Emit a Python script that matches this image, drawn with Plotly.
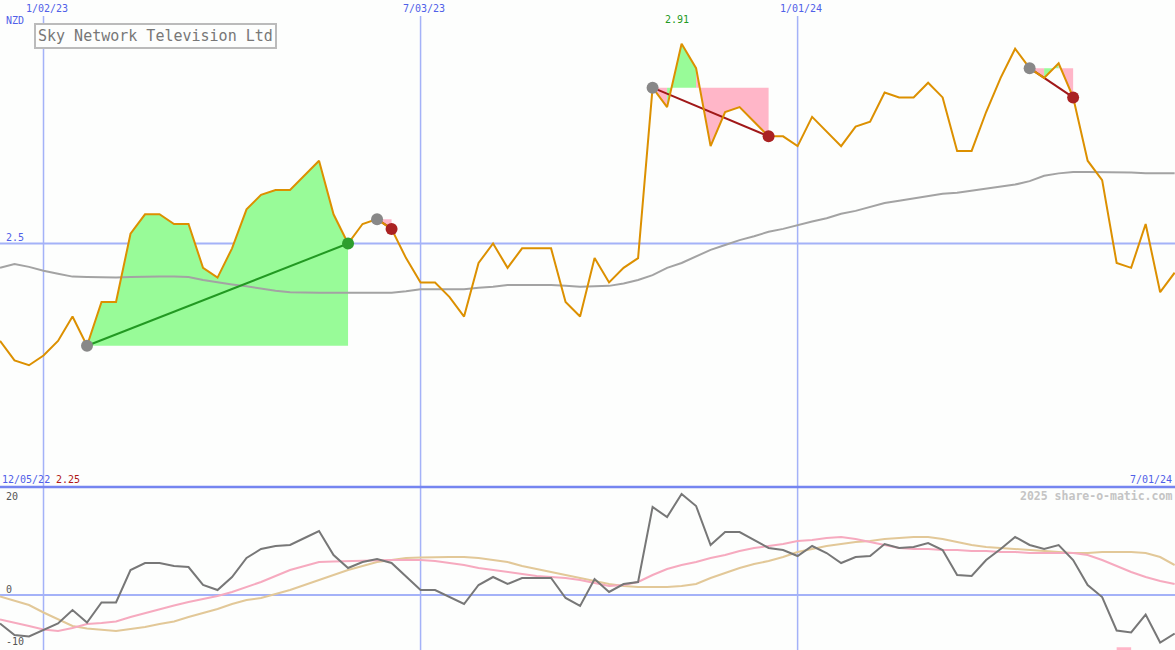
import pandas as pd
import plotly.graph_objects as go

W, H = 1175, 650

# ---------------- data ----------------
dates = pd.date_range("2022-12-12", periods=82, freq="7D")

price = [2.30, 2.26, 2.25, 2.27, 2.30, 2.35, 2.29, 2.38, 2.38, 2.52,
         2.56, 2.56, 2.54, 2.54, 2.45, 2.43, 2.49, 2.57, 2.60, 2.61,
         2.61, 2.64, 2.67, 2.56, 2.50, 2.54, 2.55, 2.53, 2.47, 2.42,
         2.42, 2.39, 2.35, 2.46, 2.50, 2.45, 2.49, 2.49, 2.49, 2.38,
         2.35, 2.47, 2.42, 2.45, 2.47, 2.82, 2.78, 2.91, 2.86, 2.70,
         2.77, 2.78, 2.75, 2.72, 2.72, 2.70, 2.76, 2.73, 2.70, 2.74,
         2.75, 2.81, 2.80, 2.80, 2.83, 2.80, 2.69, 2.69, 2.77, 2.84,
         2.90, 2.86, 2.84, 2.87, 2.80, 2.67, 2.63, 2.46, 2.45, 2.54,
         2.40, 2.44]

moving_avg = [2.450, 2.458, 2.452, 2.444, 2.438, 2.432, 2.431, 2.430, 2.430, 2.431,
              2.432, 2.432, 2.432, 2.431, 2.425, 2.420, 2.416, 2.412, 2.407, 2.403,
              2.400, 2.399, 2.399, 2.399, 2.399, 2.399, 2.398, 2.399, 2.402, 2.406,
              2.406, 2.406, 2.406, 2.409, 2.411, 2.415, 2.415, 2.415, 2.415, 2.413,
              2.411, 2.412, 2.413, 2.418, 2.425, 2.435, 2.450, 2.460, 2.474, 2.487,
              2.497, 2.507, 2.515, 2.524, 2.530, 2.538, 2.545, 2.552, 2.561, 2.567,
              2.575, 2.583, 2.588, 2.593, 2.598, 2.602, 2.604, 2.608, 2.612, 2.616,
              2.621, 2.628, 2.639, 2.644, 2.647, 2.647, 2.647, 2.647, 2.646, 2.644,
              2.644, 2.644]

osc_main = [-5.7, -8.0, -8.3, -7.0, -5.7, -3.0, -5.5, -1.5, -1.5, 5.0,
            6.4, 6.4, 5.8, 5.6, 2.0, 1.0, 3.6, 7.4, 9.2, 9.8,
            10.0, 11.4, 12.8, 8.0, 5.4, 6.6, 7.2, 6.4, 3.6, 1.0,
            1.0, -0.4, -1.8, 2.0, 3.6, 2.2, 3.4, 3.4, 3.4, -0.6,
            -2.2, 3.2, 0.6, 2.2, 2.6, 17.6, 15.6, 20.2, 17.8, 10.0,
            12.6, 12.6, 11.0, 9.4, 9.0, 7.8, 9.8, 8.4, 6.4, 7.6,
            7.8, 10.2, 9.4, 9.6, 10.4, 9.0, 4.0, 3.8, 7.0, 9.2,
            11.6, 10.0, 9.2, 10.0, 7.0, 2.0, -0.4, -7.1, -7.5, -3.9,
            -9.5, -7.7]

osc_pink = [-4.9, -5.5, -6.2, -6.9, -7.2, -6.6, -5.8, -5.6, -5.3, -4.4,
            -3.6, -2.8, -2.1, -1.4, -0.8, -0.2, 0.6, 1.6, 2.6, 3.8,
            5.0, 5.8, 6.6, 6.7, 6.8, 6.8, 7.0, 7.0, 7.0, 7.0,
            6.8, 6.4, 6.0, 5.4, 5.0, 4.6, 4.2, 3.8, 3.6, 3.4,
            3.0, 2.4, 1.8, 2.0, 2.6, 4.0, 5.2, 6.0, 6.6, 7.4,
            8.0, 8.8, 9.4, 9.8, 10.2, 10.8, 11.0, 11.4, 11.6, 11.2,
            10.6, 10.0, 9.4, 9.2, 9.2, 9.0, 9.0, 8.8, 8.8, 8.6,
            8.6, 8.4, 8.4, 8.4, 8.4, 8.0, 7.0, 5.8, 4.6, 3.6,
            2.8, 2.2]

osc_tan = [-0.3, -1.2, -2.0, -3.5, -4.8, -6.2, -6.7, -7.0, -7.2, -6.8,
           -6.4, -5.8, -5.3, -4.4, -3.6, -2.8, -1.8, -1.0, -0.6, 0.2,
           1.0, 2.0, 3.0, 4.0, 5.0, 5.8, 6.6, 7.0, 7.4, 7.5,
           7.6, 7.6, 7.6, 7.4, 7.0, 6.6, 5.8, 5.2, 4.6, 4.0,
           3.4, 2.8, 2.2, 1.8, 1.6, 1.6, 1.6, 1.8, 2.2, 3.4,
           4.4, 5.4, 6.2, 6.8, 7.6, 8.6, 9.2, 9.8, 10.2, 10.6,
           10.8, 11.2, 11.4, 11.6, 11.6, 11.2, 10.6, 10.0, 9.6, 9.4,
           9.2, 9.0, 8.8, 8.6, 8.4, 8.4, 8.6, 8.6, 8.6, 8.4,
           7.6, 6.0]

trade_entry = [6, 26, 45, 71]
trade_exit = [24, 27, 53, 74]
alert_weeks = [77]

tick_idx = [3, 29, 55]
price_grid = [2.5]
osc_grid = [0]
osc_labels = [20, 0, -10]
start_label = "12/05/22"
title = "Sky Network Television Ltd"
currency = "NZD"
credit = "2025 share-o-matic.com"

# ---------------- styling ----------------
BG = "#FDFEFD"
FONT = "DejaVu Sans Mono"
BLUE_TXT = "#5060E8"
GRID = "#A4B2F8"
DIVIDER = "#7585F0"
ORANGE = "#DC9000"
MA_GRAY = "#A3A3A3"
GREEN_FILL = "#98FB98"
PINK_FILL = "#FFB6C8"
SPLIT = 163 / H  # bottom panel height fraction


def px(x):
    return x / W


def py(y):
    return 1 - y / H


def fmt_date(d):
    return f"{d.month}/{d.day:02d}/{d.strftime('%y')}"


fig = go.Figure()

# trade fills (per segment colouring, merged into runs)
for e, x_ in zip(trade_entry, trade_exit):
    level = price[e]
    groups = []
    for i in range(e, x_):
        up = price[i + 1] >= level
        if groups and groups[-1][2] == up:
            groups[-1][1] = i + 1
        else:
            groups.append([i, i + 1, up])
    for a, b, up in groups:
        xs = [dates[a]] + list(dates[a:b + 1]) + [dates[b]]
        ys = [level] + price[a:b + 1] + [level]
        fig.add_trace(go.Scatter(x=xs, y=ys, mode="none", fill="toself",
                                 fillcolor=GREEN_FILL if up else PINK_FILL,
                                 hoverinfo="skip", xaxis="x", yaxis="y"))

# moving average
fig.add_trace(go.Scatter(x=dates, y=moving_avg, mode="lines",
                         line=dict(color=MA_GRAY, width=2), xaxis="x", yaxis="y"))

# trade lines
for e, x_ in zip(trade_entry, trade_exit):
    win = price[x_] >= price[e]
    fig.add_trace(go.Scatter(x=[dates[e], dates[x_]], y=[price[e], price[x_]], mode="lines",
                             line=dict(color="#229922" if win else "#A01818", width=2),
                             xaxis="x", yaxis="y"))

# price line
fig.add_trace(go.Scatter(x=dates, y=price, mode="lines",
                         line=dict(color=ORANGE, width=2), xaxis="x", yaxis="y"))

# trade markers
fig.add_trace(go.Scatter(x=[dates[e] for e in trade_entry], y=[price[e] for e in trade_entry],
                         mode="markers", marker=dict(color="#888888", size=12),
                         xaxis="x", yaxis="y"))
fig.add_trace(go.Scatter(x=[dates[x_] for x_ in trade_exit], y=[price[x_] for x_ in trade_exit],
                         mode="markers",
                         marker=dict(color=["#2E9E2E" if price[x_] >= price[e] else "#AA2222"
                                            for e, x_ in zip(trade_entry, trade_exit)], size=12),
                         xaxis="x", yaxis="y"))

# lower panel
fig.add_trace(go.Scatter(x=dates, y=osc_tan, mode="lines",
                         line=dict(color="#E2C898", width=2), xaxis="x2", yaxis="y2"))
fig.add_trace(go.Scatter(x=dates, y=osc_pink, mode="lines",
                         line=dict(color="#F6AABF", width=2), xaxis="x2", yaxis="y2"))
fig.add_trace(go.Scatter(x=dates, y=osc_main, mode="lines",
                         line=dict(color="#777777", width=2), xaxis="x2", yaxis="y2"))
for a in alert_weeks:
    fig.add_trace(go.Scatter(x=[dates[a], dates[a], dates[a + 1], dates[a + 1]],
                             y=[-11, -10.45, -10.45, -11], mode="none", fill="toself",
                             fillcolor=PINK_FILL, xaxis="x2", yaxis="y2"))

shapes = []
for k in tick_idx:
    shapes.append(dict(type="line", xref="x", yref="paper", x0=dates[k], x1=dates[k],
                       y0=0, y1=py(16), line=dict(color=GRID, width=1.5), layer="below"))
for g in price_grid:
    shapes.append(dict(type="line", xref="paper", yref="y", x0=0, x1=1, y0=g, y1=g,
                       line=dict(color=GRID, width=2), layer="below"))
for g in osc_grid:
    shapes.append(dict(type="line", xref="paper", yref="y2", x0=0, x1=1, y0=g, y1=g,
                       line=dict(color=GRID, width=2), layer="below"))
shapes.append(dict(type="line", xref="paper", yref="paper", x0=0, x1=1, y0=SPLIT, y1=SPLIT,
                   line=dict(color=DIVIDER, width=2.5)))

ann = []
small = dict(family=FONT, size=10, color=BLUE_TXT)
for k in tick_idx:
    ann.append(dict(x=dates[k], xref="x", y=py(8), yref="paper", text=fmt_date(dates[k]),
                    showarrow=False, xanchor="center", yanchor="middle", xshift=3, font=small))
ann.append(dict(x=px(4), y=py(21), xref="paper", yref="paper", text=currency, showarrow=False,
                xanchor="left", yanchor="middle", font=small))
for g in price_grid:
    ann.append(dict(x=px(4), xref="paper", y=g, yref="y", text=f"{g:g}", showarrow=False,
                    xanchor="left", yanchor="middle", yshift=6, font=small))
imax = price.index(max(price))
ann.append(dict(x=dates[imax], y=price[imax], xref="x", yref="y", text=f"{price[imax]:.2f}",
                showarrow=False, xanchor="center", yanchor="middle", yshift=24, xshift=-5,
                font=dict(family=FONT, size=10, color="#229922")))
ann.append(dict(x=px(0), y=py(479), xref="paper", yref="paper", text=start_label,
                showarrow=False, xanchor="left", yanchor="middle", font=small))
ann.append(dict(x=px(54), y=py(479), xref="paper", yref="paper", text=f"{min(price):.2f}",
                showarrow=False, xanchor="left", yanchor="middle",
                font=dict(family=FONT, size=10, color="#B01818")))
ann.append(dict(x=px(1174), y=py(479), xref="paper", yref="paper", text=fmt_date(dates[-1]),
                showarrow=False, xanchor="right", yanchor="middle", font=small))
ann.append(dict(x=px(1174), y=py(496), xref="paper", yref="paper", text=f"<b>{credit}</b>",
                showarrow=False, xanchor="right", yanchor="middle",
                font=dict(family=FONT, size=11.5, color="#C4C4C4")))
osc_label_pos = {20: 496, 0: 589, -10: 641}
for v in osc_labels:
    ann.append(dict(x=px(4), y=py(osc_label_pos[v]), xref="paper", yref="paper",
                    text=str(v), showarrow=False,
                    xanchor="left", yanchor="middle",
                    font=dict(family=FONT, size=10, color="#555555")))
ann.append(dict(x=px(155), y=py(36), xref="paper", yref="paper", text=title, showarrow=False,
                xanchor="center", yanchor="middle", bgcolor=BG, bordercolor="#BBBBBB",
                borderwidth=2, borderpad=2,
                font=dict(family=FONT, size=15, color="#777777")))

xr = [dates[0], dates[-1] + pd.Timedelta(hours=4)]
fig.update_layout(
    width=W, height=H, autosize=False,
    margin=dict(l=0, r=0, t=0, b=0),
    paper_bgcolor=BG, plot_bgcolor=BG, showlegend=False,
    xaxis=dict(domain=[0, 1], range=xr, visible=False, anchor="y"),
    yaxis=dict(domain=[SPLIT, 1], range=[2.0, 3.0], visible=False, anchor="x"),
    xaxis2=dict(domain=[0, 1], range=xr, visible=False, anchor="y2", matches="x"),
    yaxis2=dict(domain=[0, SPLIT], range=[-11, 21.6], visible=False, anchor="x2"),
    shapes=shapes, annotations=ann,
)

fig.write_html("out.html", config={"displayModeBar": False},
               post_script="document.body.style.margin='0';document.body.style.overflow='hidden';")
